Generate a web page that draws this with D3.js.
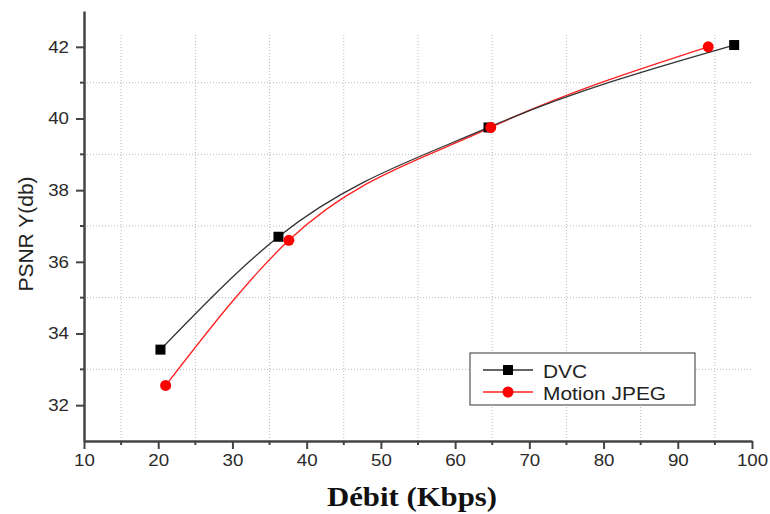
<!DOCTYPE html>
<html>
<head>
<meta charset="utf-8">
<script src="https://cdn.jsdelivr.net/npm/d3@7"></script>
<style>
  body { margin: 0; background: #fff; }
  svg { display: block; }
  .tick text { font-family: "Liberation Sans", Arial, sans-serif; font-size: 17px; fill: #2a2a2a; }
</style>
</head>
<body>
<svg class="chart" width="770" height="514"></svg>
<script>
// Data
var seriesNames = ["DVC", "Motion JPEG"];
var dvcRate = [20.3, 36.2, 64.5, 97.6];
var dvcPsnr = [33.55, 36.7, 39.75, 42.05];
var mjpegRate = [21.0, 37.6, 64.8, 94.1];
var mjpegPsnr = [32.55, 36.6, 39.75, 42.0];
var xTicks = [10, 20, 30, 40, 50, 60, 70, 80, 90, 100];
var yTicks = [32, 34, 36, 38, 40, 42];
var xMinor = [15, 25, 35, 45, 55, 65, 75, 85, 95];
var yMinor = [33, 35, 37, 39, 41];

const width = 770;
const height = 514;
const plotLeft = 84, plotRight = 752, plotTop = 11, plotBottom = 441;
const stretch = 1.1; // the figure's text is a bit wider than normal

var chart = d3.select(".chart");

var xScale = d3.scaleLinear().domain([10, 100]).range([plotLeft, plotRight]);
var yScale = d3.scaleLinear().domain([31, 43]).range([plotBottom, plotTop]);

/**** Grid (dotted, at minor ticks) ****/
chart.append("g").selectAll("line")
    .data(xMinor).enter().append("line")
    .attr("x1", d => xScale(d)).attr("x2", d => xScale(d))
    .attr("y1", plotTop + 24).attr("y2", plotBottom)
    .attr("stroke", "#bbb").attr("stroke-width", 1).attr("stroke-dasharray", "1,2");

chart.append("g").selectAll("line")
    .data(yMinor).enter().append("line")
    .attr("x1", plotLeft).attr("x2", plotRight)
    .attr("y1", d => yScale(d)).attr("y2", d => yScale(d))
    .attr("stroke", "#bbb").attr("stroke-width", 1).attr("stroke-dasharray", "1,2");

/**** Axes ****/
var xAxis = d3.axisBottom(xScale).tickValues(xTicks).tickSize(8).tickPadding(5).tickSizeOuter(0);
var yAxis = d3.axisLeft(yScale).tickValues(yTicks).tickSize(8).tickPadding(7).tickSizeOuter(0);

var gx = chart.append("g")
    .attr("transform", "translate(0," + plotBottom + ")")
    .call(xAxis);
gx.selectAll(".tick line").attr("stroke-width", 2).attr("stroke", "#444");
gx.select(".domain").attr("stroke-width", 2.5).attr("stroke", "#444");
gx.selectAll(".tick text").attr("transform", "scale(" + stretch + ",1)")
    .attr("x", 0);
gx.selectAll(".minor").data(xMinor).enter().append("line")
    .attr("x1", d => xScale(d)).attr("x2", d => xScale(d))
    .attr("y1", 0).attr("y2", 4)
    .attr("stroke", "#444").attr("stroke-width", 2);

var gy = chart.append("g")
    .attr("transform", "translate(" + plotLeft + ",0)")
    .call(yAxis);
gy.selectAll(".tick line").attr("stroke-width", 2).attr("stroke", "#444");
gy.select(".domain").attr("stroke-width", 2.5).attr("stroke", "#444");
gy.selectAll(".tick text")
    .attr("x", -15 / stretch)
    .attr("transform", "scale(" + stretch + ",1)");
gy.selectAll(".minor").data(yMinor).enter().append("line")
    .attr("x1", 0).attr("x2", -4)
    .attr("y1", d => yScale(d)).attr("y2", d => yScale(d))
    .attr("stroke", "#444").attr("stroke-width", 2);

/**** Curves ****/
var line = d3.line()
    .x(d => xScale(d[0]))
    .y(d => yScale(d[1]))
    .curve(d3.curveMonotoneX);

var dvc = dvcRate.map((r, i) => [r, dvcPsnr[i]]);
var mjpeg = mjpegRate.map((r, i) => [r, mjpegPsnr[i]]);

chart.append("path").datum(mjpeg)
    .attr("d", line).attr("fill", "none")
    .attr("stroke", "#ff2020").attr("stroke-width", 1.3);
chart.append("path").datum(dvc)
    .attr("d", line).attr("fill", "none")
    .attr("stroke", "#333").attr("stroke-width", 1.3);

chart.append("g").selectAll("rect")
    .data(dvc).enter().append("rect")
    .attr("x", d => xScale(d[0]) - 5).attr("y", d => yScale(d[1]) - 5)
    .attr("width", 10).attr("height", 10).attr("fill", "#000");

chart.append("g").selectAll("circle")
    .data(mjpeg).enter().append("circle")
    .attr("cx", d => xScale(d[0])).attr("cy", d => yScale(d[1]))
    .attr("r", 5.5).attr("fill", "#ff0000");

/**** Legend ****/
var legend = chart.append("g").attr("transform", "translate(470,353)");
legend.append("rect")
    .attr("width", 225).attr("height", 52)
    .attr("fill", "#fff").attr("stroke", "#555").attr("stroke-width", 1.2);

var legendColors = ["#000", "#ff0000"];
seriesNames.forEach(function(name, i) {
    var yy = 17 + i * 22;
    legend.append("line")
        .attr("x1", 13).attr("x2", 63).attr("y1", yy).attr("y2", yy)
        .attr("stroke", i === 0 ? "#333" : "#ff2020").attr("stroke-width", 1.3);
    if (i === 0) {
        legend.append("rect").attr("x", 33).attr("y", yy - 5).attr("width", 10).attr("height", 10).attr("fill", "#000");
    } else {
        legend.append("circle").attr("cx", 38).attr("cy", yy).attr("r", 5.5).attr("fill", legendColors[i]);
    }
    legend.append("text")
        .attr("transform", "translate(73," + (yy + 8) + ") scale(" + stretch + ",1)")
        .style("font-family", "'Liberation Sans', Arial, sans-serif")
        .style("font-size", "19px").attr("fill", "#222")
        .text(name);
});

/**** Axis titles ****/
chart.append("text")
    .attr("transform", "translate(33,234) rotate(-90)")
    .attr("text-anchor", "middle")
    .style("font-family", "'Liberation Sans', Arial, sans-serif")
    .style("font-size", "21px").attr("fill", "#222")
    .text("PSNR Y(db)");

chart.append("text")
    .attr("transform", "translate(412,506) scale(" + stretch + ",1)")
    .attr("text-anchor", "middle")
    .style("font-family", "'Liberation Serif', 'Times New Roman', serif")
    .style("font-weight", "bold")
    .style("font-size", "28px").attr("fill", "#111")
    .text("Débit (Kbps)");
</script>
</body>
</html>
